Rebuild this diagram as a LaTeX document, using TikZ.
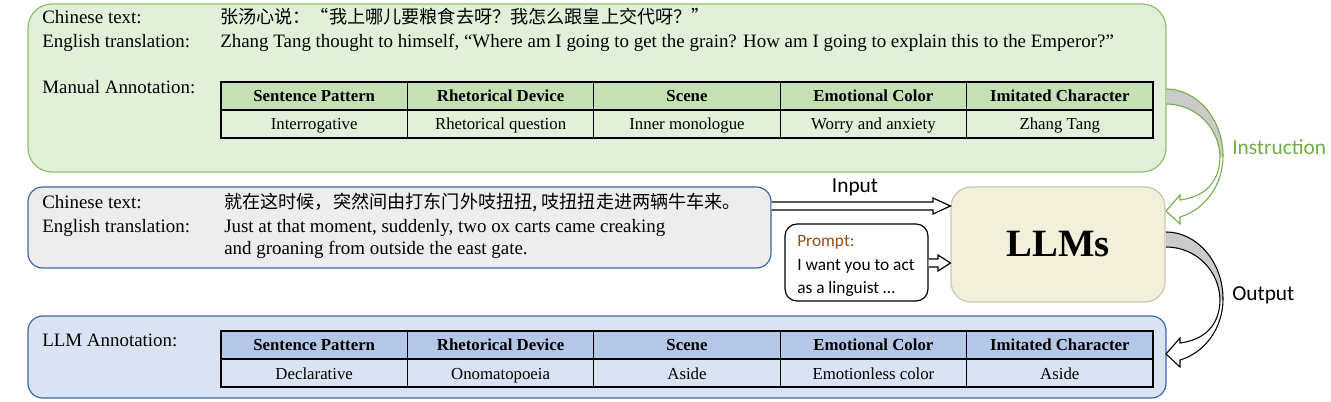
\documentclass[tikz,border=0pt]{standalone}
\usepackage{fontspec}
\setmainfont{Liberation Serif}
\newfontfamily\cjk{Noto Sans CJK SC}
\newfontfamily\calib{Carlito}
\usetikzlibrary{calc}
\definecolor{gfill}{HTML}{E2F0D9}
\definecolor{gline}{HTML}{8CC168}
\definecolor{ghead}{HTML}{C5E0B4}
\definecolor{gtext}{HTML}{70AD47}
\definecolor{grayfill}{HTML}{EDEDED}
\definecolor{bline}{HTML}{3F64A8}
\definecolor{bfill}{HTML}{DAE3F3}
\definecolor{bhead}{HTML}{B4C7E7}
\definecolor{lfill}{HTML}{F2F0DA}
\definecolor{lline}{HTML}{C9C7B2}
\definecolor{ptext}{HTML}{9A4A16}
\definecolor{band}{HTML}{CBCBCB}
\newcommand{\bendarrow}[1]{%
  \fill[band] (1166,89) .. controls (1197,89) and (1223,119) .. (1223,156)
     -- (1220,158) .. controls (1220,128) and (1196,104) .. (1166,104) -- cycle;
  \draw[#1, line width=0.8pt] (1166,89) .. controls (1197,89) and (1223,119) .. (1223,156);
  \draw[#1, line width=0.8pt] (1166,104) .. controls (1196,104) and (1220,128) .. (1220,158);
  \filldraw[draw=#1, fill=white, line width=0.8pt, line join=miter]
     (1223,156) .. controls (1223,186) and (1204,210) .. (1180,217)
     -- (1180,224) -- (1166,211) -- (1180,195) -- (1180,200)
     .. controls (1203,197) and (1219,184) .. (1220,158);
}
\begin{document}
\begin{tikzpicture}[x=0.75pt,y=-0.75pt,
  lbl/.style={anchor=base west, inner sep=0pt, font=\fontsize{14.2}{18}\selectfont},
  zh/.style={anchor=base west, inner sep=0pt, font=\cjk\fontsize{13.6}{18}\selectfont},
  cellbase/.style={draw=black, line width=0.9pt, minimum width=139.8pt, minimum height=21pt, inner sep=0pt, text height=11pt, text depth=2pt},
  cellh/.style={cellbase, font=\fontsize{12.6}{15}\selectfont\bfseries},
  celld/.style={cellbase, font=\fontsize{12.6}{15}\selectfont},
  blockarrow/.style={draw=black, fill=white, line width=0.9pt, line join=miter},
  sans/.style={font=\calib\fontsize{16}{19}\selectfont, inner sep=0pt},
  panel/.style={line width=0.9pt, inner sep=0pt}
]
\useasboundingbox (0,0) rectangle (1331,402);

% panels
\node[panel, draw=gline, fill=gfill, rounded corners=18pt, minimum width=853.5pt, minimum height=126pt] (topbox) at (597,88) {};
\node[panel, draw=bline, fill=grayfill, rounded corners=11pt, minimum width=557.25pt, minimum height=60.75pt] (grayb) at (399.5,227.5) {};
\node[panel, draw=bline, fill=bfill, rounded corners=11pt, minimum width=853.5pt, minimum height=61.5pt] (botbox) at (597,357) {};
\node[panel, draw=lline, fill=lfill, rounded corners=15pt, minimum width=160.5pt, minimum height=86.25pt, font=\fontsize{29}{34}\selectfont\bfseries] (llm) at (1058,244.5) {LLMs};
\node[panel, draw=black, fill=white, rounded corners=9pt, minimum width=107.25pt, minimum height=57.75pt] (prompt) at (856.5,262.5) {};

% top panel text
\node[lbl] (t1) at (42,24) {Chinese text:};
\node[zh] (t1z) at (220,24) {张汤心说：“我上哪儿要粮食去呀？我怎么跟皇上交代呀？”};
\node[lbl] (t2) at (42,48) {English translation:};
\node[lbl] (t2e) at (220,48) {Zhang Tang thought to himself, “Where am I going to get the grain? How am I going to explain this to the Emperor?”};
\node[lbl] (t3) at (42,94) {Manual Annotation:};

\foreach \i/\h/\d in {1/Sentence Pattern/Interrogative, 2/Rhetorical Device/Rhetorical question, 3/Scene/Inner monologue, 4/Emotional Color/Worry and anxiety, 5/Imitated Character/Zhang Tang} {
  \node[cellh, fill=ghead] (th\i) at ({221+186.4*(\i-0.5)},96) {\h};
  \node[celld] (td\i) at ({221+186.4*(\i-0.5)},124) {\d};
}
\draw[line width=1.2pt] (th1.north west) rectangle (td5.south east);

% middle panel text
\node[lbl] (m1) at (42,209) {Chinese text:};
\node[zh] (m1z) at (224,209) {就在这时候，突然间由打东门外吱扭扭, 吱扭扭走进两辆牛车来。};
\node[lbl] (m2) at (42,233) {English translation:};
\node[lbl] (m2e) at (224,233) {Just at that moment, suddenly, two ox carts came creaking};
\node[lbl] (m3e) at (224,255) {and groaning from outside the east gate.};

% bottom panel
\node[lbl] (b1) at (42,347) {LLM Annotation:};
\foreach \i/\h/\d in {1/Sentence Pattern/Declarative, 2/Rhetorical Device/Onomatopoeia, 3/Scene/Aside, 4/Emotional Color/Emotionless color, 5/Imitated Character/Aside} {
  \node[cellh, fill=bhead] (bh\i) at ({221+186.4*(\i-0.5)},345) {\h};
  \node[celld] (bd\i) at ({221+186.4*(\i-0.5)},373) {\d};
}
\draw[line width=1.2pt] (bh1.north west) rectangle (bd5.south east);

% prompt text
\node[anchor=west, align=left, inner sep=0pt, font=\calib\fontsize{13}{17.5}\selectfont] (ptxt) at (797,266) {\textcolor{ptext}{Prompt:}\\I want you to act\\as a linguist …};

% block arrows
\draw[blockarrow] (grayb.east |- 0,202) -- (933,202) -- (933,198) -- (llm.west |- 0,206) -- (933,214) -- (933,210) -- (grayb.east |- 0,210);
\draw[blockarrow] (prompt.east |- 0,259) -- (938,259) -- (938,255) -- (llm.west |- 0,263) -- (938,271) -- (938,267) -- (prompt.east |- 0,267);
\node[sans] (inlbl) at (855,187) {Input};

% curved arrows
\bendarrow{gtext}
\begin{scope}[shift={(0,143)}]
\bendarrow{black}
\end{scope}
\node[sans, text=gtext, anchor=west] (instr) at (1232,147) {Instruction};
\node[sans, anchor=west] (outl) at (1232,295) {Output};
\end{tikzpicture}
\end{document}
